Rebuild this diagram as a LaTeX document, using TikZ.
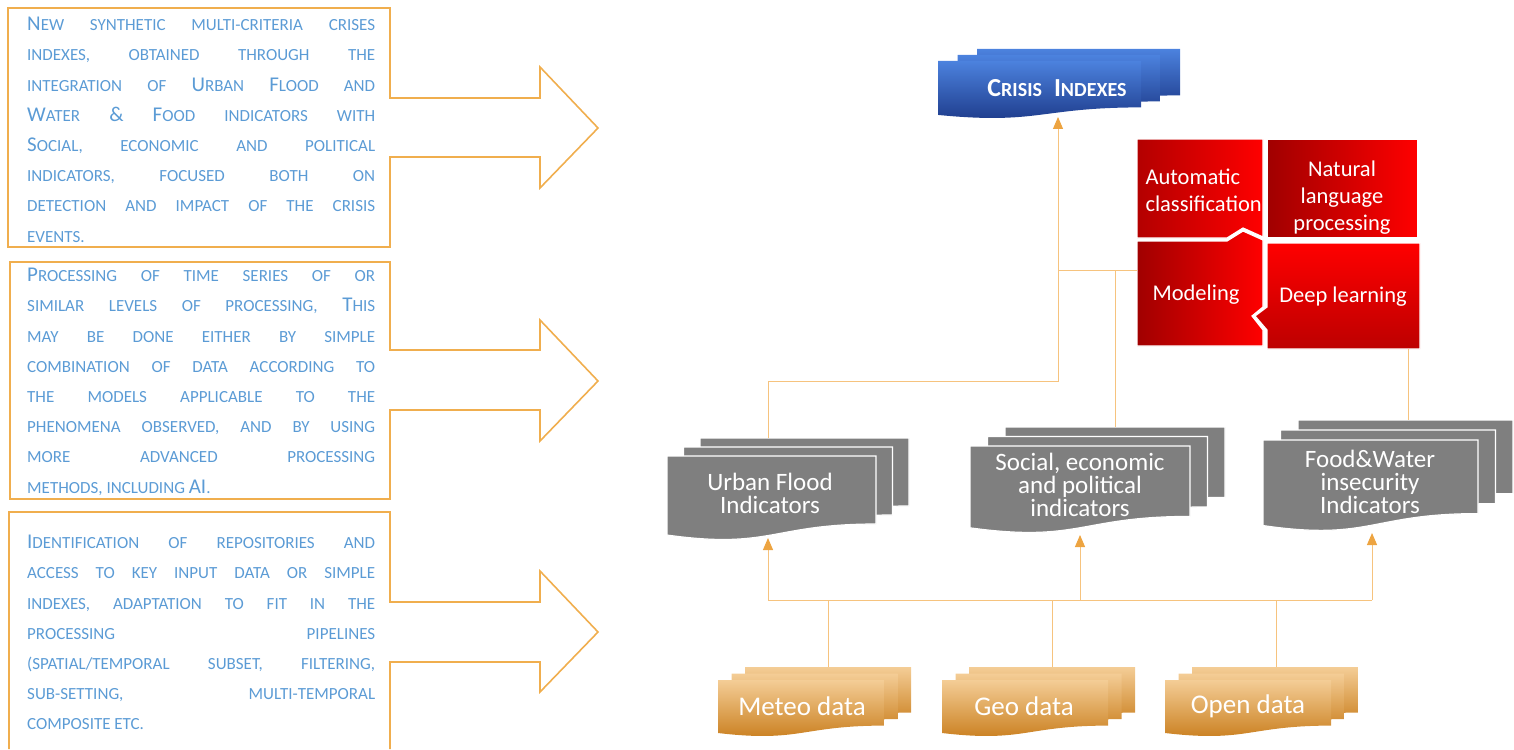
\documentclass[tikz,border=0pt]{standalone}
\usepackage{fontspec}
\setmainfont{Carlito}
\usetikzlibrary{positioning, arrows.meta, calc}

\definecolor{callline}{HTML}{F0AE4E}
\definecolor{calltxt}{HTML}{5B9BD5}
\definecolor{connline}{HTML}{F6C37E}
\definecolor{conntip}{HTML}{EDA441}
\definecolor{stackgray}{HTML}{7F7F7F}
\definecolor{datatop}{HTML}{F4CD96}
\definecolor{databot}{HTML}{C77A17}
\definecolor{crisistop}{HTML}{4C82DE}
\definecolor{crisisbot}{HTML}{1B3786}
\definecolor{reddark}{HTML}{A00000}
\definecolor{redlight}{HTML}{FF0000}

% larger capital inside the small caps text
\newcommand{\bc}[1]{{\fontsize{21}{30}\selectfont #1}}
% capital / small capital pair for the title
\newcommand{\tc}[2]{{\fontsize{26}{26}\selectfont #1}{\fontsize{20}{26}\selectfont #2}}

% wavy document: style, x, y (top), width, height
\newcommand{\wavedoc}[5]{%
  \path[#1] (#2,#3) -- (#2+#4,#3) -- (#2+#4,#3+0.8*#5)
    .. controls (#2+0.5*#4,#3+0.8*#5) and (#2+0.5*#4,#3+1.1*#5) .. (#2,#3+0.93*#5) -- cycle;}

% three stacked documents: style, x, y, width, height, dx, dy (upwards)
\newcommand{\docstack}[7]{%
  \wavedoc{#1}{#2+2*#6}{#3-2*#7}{#4}{#5}
  \wavedoc{#1}{#2+#6}{#3-#7}{#4}{#5}
  \wavedoc{#1}{#2}{#3}{#4}{#5}}

\begin{document}
\begin{tikzpicture}[x=1pt, y=-1pt,
    callout/.style={draw=callline, line width=1.6pt},
    calltext/.style={text=calltxt, text width=348pt, inner sep=0pt, align=justify,
      anchor=north west, font=\fontsize{17}{30.2}\selectfont},
    conn/.style={draw=connline, line width=1pt},
    arr/.style={conn, -{Triangle[width=10pt, length=12pt, color=conntip]}},
    graydoc/.style={fill=stackgray, draw=white, line width=1.2pt},
    datadoc/.style={top color=datatop, bottom color=databot},
    crisisdoc/.style={top color=crisistop, bottom color=crisisbot},
    stacktext/.style={text=white, align=center, font=\fontsize{25}{23}\selectfont},
    datatext/.style={text=white, font=\fontsize{27}{28}\selectfont},
    piecetext/.style={text=white, font=\fontsize{22.5}{27}\selectfont},
    piece/.style={draw=white, line width=1.2pt}]

  \useasboundingbox (0,0) rectangle (1514,749);

  % left callouts
  \draw[callout] (8,8) -- (390,8) -- (390,98) -- (540,98) -- (540,67) -- (598,128)
    -- (540,188) -- (540,157) -- (390,157) -- (390,247) -- (8,247) -- cycle;
  \draw[callout] (10,262) -- (390,262) -- (390,350) -- (540,350) -- (540,320) -- (598,381)
    -- (540,441) -- (540,410) -- (390,410) -- (390,499) -- (10,499) -- cycle;
  \draw[callout] (390,749) -- (390,662) -- (540,662) -- (540,692) -- (598,632)
    -- (540,571) -- (540,602) -- (390,602) -- (390,512) -- (9,512) -- (9,749);

  \node[calltext] (note1) at (27,17) {\bc{N}EW SYNTHETIC MULTI-CRITERIA CRISES\linebreak
    INDEXES, OBTAINED THROUGH THE\linebreak
    INTEGRATION OF \bc{U}RBAN \bc{F}LOOD AND\linebreak
    \bc{W}ATER \bc{\&} \bc{F}OOD INDICATORS WITH\linebreak
    \bc{S}OCIAL, ECONOMIC AND POLITICAL\linebreak
    INDICATORS, FOCUSED BOTH ON\linebreak
    DETECTION AND IMPACT OF THE CRISIS\linebreak
    EVENTS.};
  \node[calltext] (note2) at (27,268) {\bc{P}ROCESSING OF TIME SERIES OF OR\linebreak
    SIMILAR LEVELS OF PROCESSING, \bc{T}HIS\linebreak
    MAY BE DONE EITHER BY SIMPLE\linebreak
    COMBINATION OF DATA ACCORDING TO\linebreak
    THE MODELS APPLICABLE TO THE\linebreak
    PHENOMENA OBSERVED, AND BY USING\linebreak
    MORE ADVANCED PROCESSING\linebreak
    METHODS, INCLUDING \bc{AI}.};
  \node[calltext] (note3) at (27,535) {\bc{I}DENTIFICATION OF REPOSITORIES AND\linebreak
    ACCESS TO KEY INPUT DATA OR SIMPLE\linebreak
    INDEXES, ADAPTATION TO FIT IN THE\linebreak
    PROCESSING PIPELINES\linebreak
    (SPATIAL/TEMPORAL SUBSET, FILTERING,\linebreak
    SUB-SETTING, MULTI-TEMPORAL\linebreak
    COMPOSITE ETC.};

  % document stacks
  \docstack{crisisdoc}{938}{61}{203}{58}{19.5}{6}
  \docstack{graydoc}{667}{456}{209}{85}{16.5}{9}
  \docstack{graydoc}{970}{446}{220}{88}{17.5}{9.5}
  \docstack{graydoc}{1263}{440}{215}{92}{17.5}{10}
  \docstack{datadoc}{718}{680}{166}{57}{13.5}{6.5}
  \docstack{datadoc}{942}{680}{166}{57}{13.5}{6.5}
  \docstack{datadoc}{1165}{680}{166}{57}{13.5}{6.5}

  % puzzle
  \path[piece, left color=reddark!80!redlight, right color=redlight]
    (1137,139) -- (1263,139) -- (1263,237) -- (1243,228) -- (1227,238) -- (1137,238) -- cycle;
  \path[piece, left color=reddark, right color=redlight]
    (1267,139) -- (1418,139) -- (1418,238) -- (1267,238) -- cycle;
  \path[piece, left color=reddark, right color=redlight]
    (1137,241) -- (1227,241) -- (1243,231) -- (1263,240) -- (1263,307) -- (1252,316)
    -- (1263,330) -- (1263,346) -- (1137,346) -- cycle;
  \path[piece, top color=redlight, bottom color=reddark!70!redlight]
    (1267,243) -- (1420,243) -- (1420,349) -- (1267,349) -- (1267,330) -- (1255,316)
    -- (1267,307) -- cycle;

  % labels
  \node[text=white, font=\bfseries] (crisis) at (1057,88)
    {\tc{C}{RISIS}\hspace{12pt}\tc{I}{NDEXES}};
  \node[stacktext] (urban) at (770,493) {Urban Flood\\Indicators};
  \node[stacktext] (social) at (1080,485) {Social, economic\\and political\\indicators};
  \node[stacktext] (food) at (1370,482) {Food\&Water\\insecurity\\Indicators};
  \node[datatext] (meteo) at (802,706) {Meteo data};
  \node[datatext] (geo) at (1024,706) {Geo data};
  \node[datatext] (open) at (1248,706) {Open data};
  \node[piecetext, align=left, anchor=west] (autocl) at (1142,190) {Automatic\\classification};
  \node[piecetext, align=center] (nlp) at (1342,198) {Natural\\language\\processing};
  \node[piecetext] (model) at (1196,295) {Modeling};
  \node[piecetext] (deep) at (1343,297) {Deep learning};

  % connector ends
  \coordinate (meteoT) at (828,667);
  \coordinate (geoT) at (1052,667);
  \coordinate (openT) at (1276,667);
  \coordinate (busL) at (768,600);
  \coordinate (busR) at (1372,600);
  \coordinate (urbanB) at (768,538);
  \coordinate (socialB) at (1080,535);
  \coordinate (foodB) at (1372,533);
  \coordinate (urbanT) at (768,438);
  \coordinate (socialT) at (1115,427);
  \coordinate (foodT) at (1408,420);
  \coordinate (join) at (1058,381);
  \coordinate (crisisB) at (1058,117);
  \coordinate (puzzleL) at (1137,270);
  \coordinate (puzzleB) at (1408,349);

  \draw[conn] (busL) -- (busR);
  \draw[conn] (meteoT) -- (meteoT |- busL);
  \draw[conn] (geoT) -- (geoT |- busL);
  \draw[conn] (openT) -- (openT |- busL);
  \draw[arr] (busL) -- (urbanB);
  \draw[arr] (socialB |- busL) -- (socialB);
  \draw[arr] (busR) -- (foodB);

  \draw[arr] (urbanT) |- (join) -- (crisisB);
  \draw[conn] (puzzleL) -- (puzzleL -| join);
  \draw[conn] (socialT) -- (socialT |- puzzleL);
  \draw[conn] (puzzleB) -- (foodT);
\end{tikzpicture}
\end{document}
